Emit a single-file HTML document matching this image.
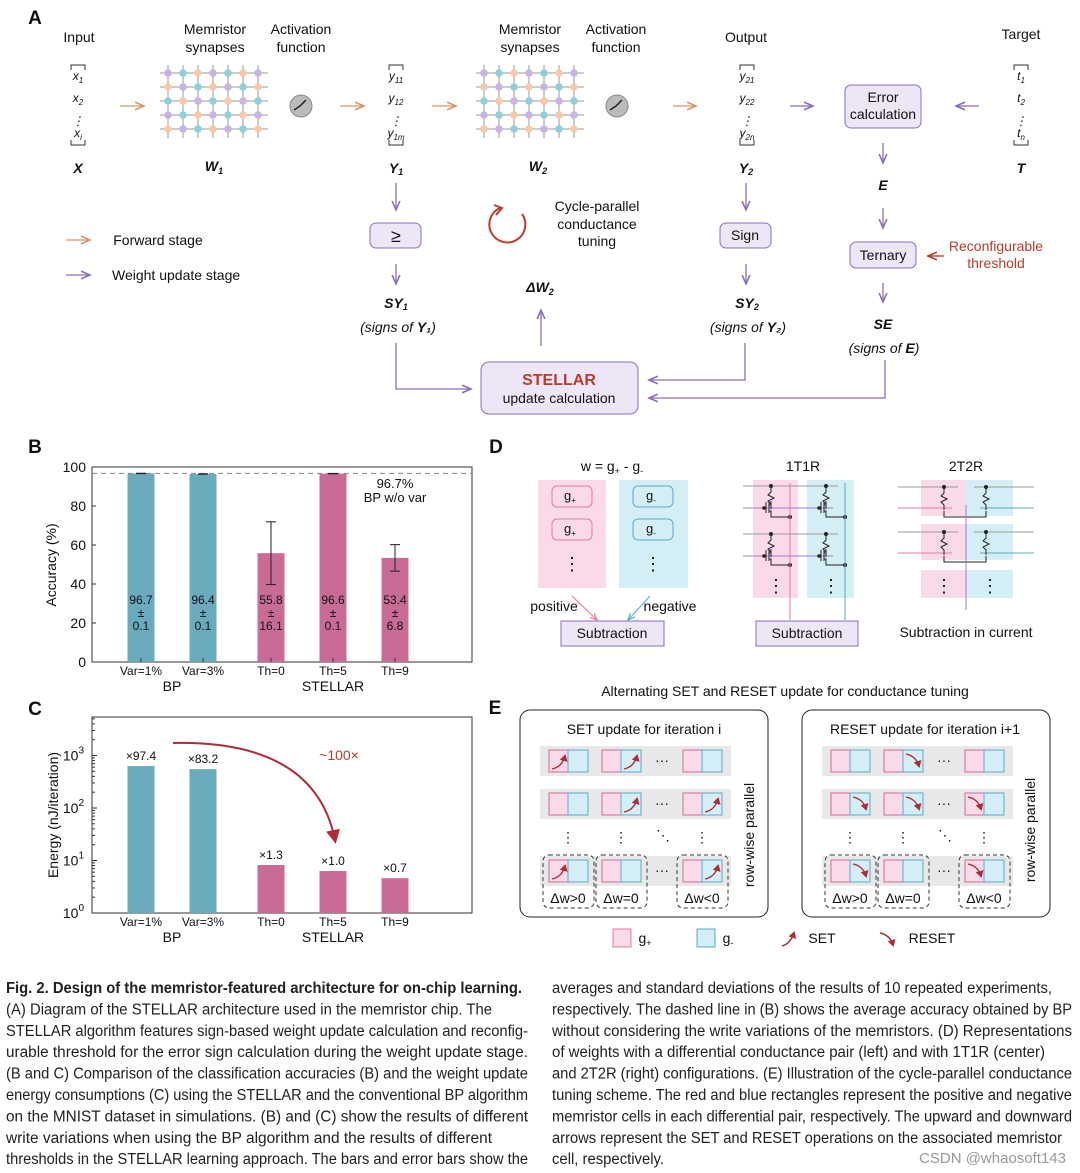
<!DOCTYPE html>
<html><head><meta charset="utf-8"><style>
body{margin:0;background:#fff}
svg{display:block;font-family:"Liberation Sans",sans-serif}
</style></head><body>
<svg id="fig" width="1080" height="1173" viewBox="0 0 1080 1173" xmlns="http://www.w3.org/2000/svg">
<defs>
<marker id="ao" markerWidth="8" markerHeight="8" refX="7" refY="4" orient="auto"><path d="M0,1 L7,4 L0,7" fill="none" stroke="#d9956b" stroke-width="1.2"/></marker>
<marker id="ap" markerWidth="8" markerHeight="8" refX="7" refY="4" orient="auto"><path d="M0,1 L7,4 L0,7" fill="none" stroke="#8b6cc0" stroke-width="1.2"/></marker>
<marker id="ar" markerWidth="8" markerHeight="8" refX="7" refY="4" orient="auto"><path d="M0,1 L7,4 L0,7" fill="none" stroke="#c0392b" stroke-width="1.2"/></marker>
<marker id="arf" markerUnits="userSpaceOnUse" markerWidth="8" markerHeight="8" refX="5" refY="4" orient="auto"><path d="M0,0 L7,4 L0,8 Z" fill="#b22a3a"/></marker>
<marker id="arfb" markerUnits="userSpaceOnUse" markerWidth="16" markerHeight="16" refX="10" refY="8" orient="auto"><path d="M0,1 L14,8 L0,15 Z" fill="#b22a3a"/></marker>
<marker id="ag" markerWidth="8" markerHeight="8" refX="7" refY="4" orient="auto"><path d="M0,1 L7,4 L0,7" fill="none" stroke="#e17aa5" stroke-width="1.2"/></marker>
<marker id="ab" markerWidth="8" markerHeight="8" refX="7" refY="4" orient="auto"><path d="M0,1 L7,4 L0,7" fill="none" stroke="#5aaac8" stroke-width="1.2"/></marker>
</defs>

<!-- Panel A -->
<g font-size="14" text-anchor="middle" fill="#111">
<text x="35" y="24" font-size="19" font-weight="bold" text-anchor="middle">A</text>
<text x="79" y="42">Input</text>
<text x="215" y="34">Memristor</text><text x="215" y="52">synapses</text>
<text x="301" y="34">Activation</text><text x="301" y="52">function</text>
<text x="530" y="34">Memristor</text><text x="530" y="52">synapses</text>
<text x="616" y="34">Activation</text><text x="616" y="52">function</text>
<text x="746" y="42">Output</text>
<text x="1021" y="39">Target</text>
<g id="vecs" font-style="italic" font-size="12"></g>
<g font-weight="bold" font-style="italic" font-size="14">
<text x="78" y="173">X</text><text x="214" y="171">W<tspan font-size="9" dy="3">1</tspan></text>
<text x="396" y="173">Y<tspan font-size="9" dy="2">1</tspan></text>
<text x="538" y="171">W<tspan font-size="9" dy="3">2</tspan></text>
<text x="746" y="173">Y<tspan font-size="9" dy="2">2</tspan></text>
<text x="1021" y="173">T</text><text x="883" y="190">E</text>
<text x="396" y="308">SY<tspan font-size="9" dy="2">1</tspan></text>
<text x="747" y="308">SY<tspan font-size="9" dy="2">2</tspan></text>
<text x="883" y="329">SE</text>
<text x="540" y="292">ΔW<tspan font-size="9" dy="3">2</tspan></text>
</g>
<g id="grids"></g>
<circle cx="301" cy="106" r="11" fill="#bbb" stroke="#888"/><path d="M294,110 L300,106 L306,100" stroke="#222" fill="none" stroke-width="1.5"/>
<circle cx="617" cy="106" r="11" fill="#bbb" stroke="#888"/><path d="M610,110 L616,106 L622,100" stroke="#222" fill="none" stroke-width="1.5"/>
<g stroke="#d9956b" stroke-width="1.3" marker-end="url(#ao)">
<line x1="120" y1="106" x2="144" y2="106"/><line x1="340" y1="106" x2="364" y2="106"/><line x1="432" y1="106" x2="456" y2="106"/><line x1="673" y1="106" x2="696" y2="106"/><line x1="66" y1="240" x2="90" y2="240"/>
</g>
<g stroke="#8b6cc0" stroke-width="1.3" fill="none" marker-end="url(#ap)">
<line x1="790" y1="106" x2="813" y2="106"/><line x1="979" y1="106" x2="956" y2="106"/><line x1="66" y1="275" x2="90" y2="275"/>
<line x1="883" y1="143" x2="883" y2="163"/><line x1="883" y1="208" x2="883" y2="228"/><line x1="883" y1="283" x2="883" y2="302"/>
<line x1="396" y1="183" x2="396" y2="210"/><line x1="396" y1="264" x2="396" y2="284"/>
<line x1="746" y1="183" x2="746" y2="210"/><line x1="746" y1="264" x2="746" y2="284"/>
<line x1="541" y1="346" x2="541" y2="310"/>
<polyline points="396,343 396,389 471,389"/><polyline points="745,343 745,380 649,380"/><polyline points="885,360 885,398 649,398"/>
</g>
<line x1="944" y1="256" x2="928" y2="256" stroke="#c0392b" stroke-width="1.3" marker-end="url(#ar)"/>
<text x="158" y="245" text-anchor="middle">Forward stage</text>
<text x="112" y="280" text-anchor="start">Weight update stage</text>
<rect x="370" y="223" width="51" height="25" rx="6" fill="#ece6f7" stroke="#8b6cc0"/><text x="396" y="242" font-size="18">≥</text>
<rect x="720" y="223" width="51" height="25" rx="6" fill="#ece6f7" stroke="#8b6cc0"/><text x="745" y="240">Sign</text>
<rect x="845" y="85" width="76" height="43" rx="6" fill="#ece6f7" stroke="#8b6cc0"/><text x="883" y="102">Error</text><text x="883" y="119">calculation</text>
<rect x="850" y="242" width="66" height="26" rx="6" fill="#ece6f7" stroke="#8b6cc0"/><text x="883" y="260">Ternary</text>
<text x="996" y="251" fill="#c0392b">Reconfigurable</text><text x="996" y="268" fill="#c0392b">threshold</text>
<path d="M500,208 A18,18 0 1 0 522,214" fill="none" stroke="#c0392b" stroke-width="2"/><path d="M494,205 L502,208 L496,215" fill="none" stroke="#c0392b" stroke-width="2"/>
<text x="597" y="211">Cycle-parallel</text><text x="597" y="229">conductance</text><text x="597" y="246">tuning</text>
<text x="398" y="332" font-style="italic">(signs of <tspan font-weight="bold">Y₁</tspan>)</text>
<text x="748" y="332" font-style="italic">(signs of <tspan font-weight="bold">Y₂</tspan>)</text>
<text x="884" y="353" font-style="italic">(signs of <tspan font-weight="bold">E</tspan>)</text>
<rect x="481" y="362" width="157" height="52" rx="8" fill="#ece6f7" stroke="#8b6cc0"/>
<text x="559" y="385" font-size="16" font-weight="bold" fill="#c0392b">STELLAR</text><text x="559" y="403">update calculation</text>
</g>

<!-- Panel B -->
<g id="chartB" font-size="13" fill="#111">
<text x="35" y="453" font-size="19" font-weight="bold" text-anchor="middle">B</text>
</g>
<!-- Panel C -->
<g id="chartC" font-size="13" fill="#111">
<text x="35" y="715" font-size="19" font-weight="bold" text-anchor="middle">C</text>
</g>

<!-- Panel D -->
<g font-size="14" text-anchor="middle" fill="#111">
<text x="496" y="453" font-size="19" font-weight="bold">D</text>
<text x="612" y="471">w = g<tspan font-size="9" dy="3">+</tspan><tspan dy="-3"> - g</tspan><tspan font-size="9" dy="3">-</tspan></text>
<rect x="538" y="480" width="68" height="108" fill="#fad9e8"/><rect x="619" y="480" width="69" height="108" fill="#d3eef4"/>
<rect x="552" y="486" width="40" height="21" rx="5" fill="#fad9e8" stroke="#e17aa5"/><text x="570" y="500" font-size="13">g<tspan font-size="8" dy="3">+</tspan></text>
<rect x="552" y="519" width="40" height="21" rx="5" fill="#fad9e8" stroke="#e17aa5"/><text x="570" y="533" font-size="13">g<tspan font-size="8" dy="3">+</tspan></text>
<rect x="633" y="486" width="40" height="21" rx="5" fill="#d3eef4" stroke="#5aaac8"/><text x="651" y="500" font-size="13">g<tspan font-size="8" dy="3">-</tspan></text>
<rect x="633" y="519" width="40" height="21" rx="5" fill="#d3eef4" stroke="#5aaac8"/><text x="651" y="533" font-size="13">g<tspan font-size="8" dy="3">-</tspan></text>
<text x="572" y="570" font-size="18">⋮</text><text x="653" y="570" font-size="18">⋮</text>
<text x="554" y="611">positive</text><text x="670" y="611">negative</text>
<line x1="572" y1="596" x2="597" y2="620" stroke="#e17aa5" marker-end="url(#ag)"/><line x1="650" y1="596" x2="628" y2="620" stroke="#5aaac8" marker-end="url(#ab)"/>
<rect x="561" y="621" width="103" height="25" fill="#ece6f7" stroke="#8b6cc0"/><text x="612" y="638">Subtraction</text>
<text x="803" y="471">1T1R</text>
<rect x="753" y="480" width="45" height="118" fill="#fad9e8"/><rect x="807" y="480" width="47" height="118" fill="#d3eef4"/>
<g id="c1t1r"></g>
<line x1="790" y1="483" x2="790" y2="620" stroke="#e17aa5"/><line x1="845" y1="483" x2="845" y2="620" stroke="#5aaac8"/>
<text x="776" y="592" font-size="18">⋮</text><text x="831" y="592" font-size="18">⋮</text>
<rect x="756" y="621" width="102" height="25" fill="#ece6f7" stroke="#8b6cc0"/><text x="807" y="638">Subtraction</text>
<text x="966" y="471">2T2R</text>
<rect x="921" y="480" width="45" height="36" fill="#fad9e8"/><rect x="966" y="480" width="47" height="36" fill="#d3eef4"/>
<rect x="921" y="524" width="45" height="36" fill="#fad9e8"/><rect x="966" y="524" width="47" height="36" fill="#d3eef4"/>
<rect x="921" y="570" width="45" height="28" fill="#fad9e8"/><rect x="966" y="570" width="47" height="28" fill="#d3eef4"/>
<g id="c2t2r"></g>
<line x1="966" y1="505" x2="966" y2="610" stroke="#a07ad0"/>
<text x="944" y="592" font-size="18">⋮</text><text x="990" y="592" font-size="18">⋮</text>
<text x="966" y="637">Subtraction in current</text>
</g>

<!-- Panel E -->
<g id="panelE" font-size="14" text-anchor="middle" fill="#111">
<text x="495" y="714" font-size="19" font-weight="bold">E</text>
<text x="785" y="696">Alternating SET and RESET update for conductance tuning</text>
<rect x="520" y="710" width="248" height="207" rx="10" fill="none" stroke="#222"/>
<rect x="802" y="710" width="248" height="207" rx="10" fill="none" stroke="#222"/>
<text x="644" y="734">SET update for iteration i</text>
<text x="925" y="734">RESET update for iteration i+1</text>
<text transform="translate(754,835) rotate(-90)">row-wise parallel</text>
<text transform="translate(1035,830) rotate(-90)">row-wise parallel</text>
<rect x="613" y="929" width="18" height="18" fill="#fad9e8" stroke="#e17aa5"/><text x="645" y="943">g<tspan font-size="9" dy="3">+</tspan></text>
<rect x="697" y="929" width="18" height="18" fill="#d3eef4" stroke="#5aaac8"/><text x="728" y="943">g<tspan font-size="9" dy="3">-</tspan></text>
<path d="M782,946 Q790,944 794,933" fill="none" stroke="#b22a3a" stroke-width="1.5" marker-end="url(#arf)"/><text x="822" y="943">SET</text>
<path d="M880,933 Q890,935 893,945" fill="none" stroke="#b22a3a" stroke-width="1.5" marker-end="url(#arf)"/><text x="932" y="943">RESET</text>
</g>

<!-- Caption -->
<g font-size="15.5" fill="#222" id="caption"></g>
<text x="1066" y="1163" font-size="15" fill="#999" text-anchor="end">CSDN @whaosoft143</text>
</svg>
<script>
const NS="http://www.w3.org/2000/svg";
function el(p,t,a,txt){const e=document.createElementNS(NS,t);for(const k in a)e.setAttribute(k,a[k]);if(txt!==undefined)e.textContent=txt;p.appendChild(e);return e;}

// ---- chart data ----
const catLabels=["Var=1%","Var=3%","Th=0","Th=5","Th=9"];
const groups=["BP","BP","STELLAR","STELLAR","STELLAR"];
const accMean=[96.7,96.4,55.8,96.6,53.4];
const accStd=[0.1,0.1,16.1,0.1,6.8];
const accTicks=[0,20,40,60,80,100];
const refLine=96.7;
const energyVals=[630,550,8.2,6.3,4.6];
const energyRatio=["×97.4","×83.2","×1.3","×1.0","×0.7"];
const energyTicks=[0,1,2,3];

const TEAL="#6aaabd",PINK="#c96b97";
const xC=[141,203,271,333,395], bw=27;

// Panel B
(function(){
 const g=document.getElementById('chartB');
 const L=92,R=472,T=467,B=662;
 const y=v=>B-(v/100)*(B-T);
 el(g,'rect',{x:L,y:T,width:R-L,height:B-T,fill:'none',stroke:'#333'});
 el(g,'line',{x1:L,x2:R,y1:y(refLine),y2:y(refLine),stroke:'#888','stroke-dasharray':'5,4'});
 accTicks.forEach(t=>{el(g,'line',{x1:L,x2:L+4,y1:y(t),y2:y(t),stroke:'#333'});el(g,'text',{x:L-6,y:y(t)+5,'text-anchor':'end','font-size':14},t);});
 el(g,'text',{transform:'translate(56,565) rotate(-90)','text-anchor':'middle','font-size':14},'Accuracy (%)');
 accMean.forEach((v,i)=>{
  const b=el(g,'rect',{x:xC[i]-bw/2,y:y(v),width:bw,height:B-y(v),fill:i<2?TEAL:PINK});
  
  
  const s=accStd[i];
  el(g,'line',{x1:xC[i],x2:xC[i],y1:y(v+s),y2:y(v-s),stroke:'#222'});
  el(g,'line',{x1:xC[i]-5,x2:xC[i]+5,y1:y(v+s),y2:y(v+s),stroke:'#222'});
  el(g,'line',{x1:xC[i]-5,x2:xC[i]+5,y1:y(v-s),y2:y(v-s),stroke:'#222'});
  el(g,'text',{x:xC[i],y:604,'text-anchor':'middle','font-size':12},v.toFixed(1));
  el(g,'text',{x:xC[i],y:617,'text-anchor':'middle','font-size':12},'±');
  el(g,'text',{x:xC[i],y:630,'text-anchor':'middle','font-size':12},s.toFixed(1));
  el(g,'line',{x1:xC[i],x2:xC[i],y1:B,y2:B-4,stroke:'#333'});
  el(g,'text',{x:xC[i],y:675,'text-anchor':'middle','font-size':12},catLabels[i]);
 });
 el(g,'text',{x:172,y:691,'text-anchor':'middle','font-size':14},'BP');
 el(g,'text',{x:333,y:691,'text-anchor':'middle','font-size':14},'STELLAR');
 el(g,'text',{x:395,y:488,'text-anchor':'middle','font-size':13},refLine+'%');
 el(g,'text',{x:395,y:502,'text-anchor':'middle','font-size':13},'BP w/o var');
})();

// Panel C
(function(){
 const g=document.getElementById('chartC');
 const L=92,R=472,T=717,B=913,dec=52.5;
 const y=v=>B-Math.log10(v)*dec;
 el(g,'rect',{x:L,y:T,width:R-L,height:B-T,fill:'none',stroke:'#333'});
 energyTicks.forEach(t=>{const yy=B-t*dec;el(g,'line',{x1:L,x2:L+5,y1:yy,y2:yy,stroke:'#333'});
  for(let m=2;m<10&&t<3.7;m++){const ym=B-(t+Math.log10(m))*dec;if(ym>T)el(g,'line',{x1:L,x2:L+3,y1:ym,y2:ym,stroke:'#333'});}
  const tx=el(g,'text',{x:L-8,y:yy+5,'text-anchor':'end','font-size':14},'10');el(tx,'tspan',{dy:-7,'font-size':10},t);});
 el(g,'text',{transform:'translate(58,815) rotate(-90)','text-anchor':'middle','font-size':14},'Energy (nJ/iteration)');
 energyVals.forEach((v,i)=>{
  const b=el(g,'rect',{x:xC[i]-bw/2,y:y(v),width:bw,height:B-y(v),fill:i<2?TEAL:PINK});
  
  
  el(g,'text',{x:xC[i],y:y(v)-6,'text-anchor':'middle','font-size':12},energyRatio[i]);
  el(g,'text',{x:xC[i],y:926,'text-anchor':'middle','font-size':12},catLabels[i]);
 });
 el(g,'text',{x:172,y:942,'text-anchor':'middle','font-size':14},'BP');
 el(g,'text',{x:333,y:942,'text-anchor':'middle','font-size':14},'STELLAR');
 el(g,'path',{d:'M173,743 Q315,740 335,840',fill:'none',stroke:'#b22a3a','stroke-width':2,'marker-end':'url(#arfb)'});
 el(g,'text',{x:339,y:760,'text-anchor':'middle','font-size':14,fill:'#c0392b'},'~100×');
})();

// Panel A vectors and grids, panel D circuits
(function(){
 const g=document.getElementById('vecs');
 function vec(x,labs){el(g,'path',{d:`M${x-7},70 L${x-7},65 L${x+7},65 L${x+7},70 M${x-7},140 L${x-7},145 L${x+7},145 L${x+7},140`,fill:'none',stroke:'#333'});
  const ys=[80,102,137];labs.forEach((l,i)=>{const t=el(g,'text',{x:x,y:ys[i]},l[0]);el(t,'tspan',{'font-size':8,dy:3},l[1]);});
  el(g,'text',{x:x,y:125,'font-size':12},'⋮');}
 vec(78,[['x','1'],['x','2'],['x','i']]);vec(396,[['y','11'],['y','12'],['y','1m']]);vec(747,[['y','21'],['y','22'],['y','2n']]);vec(1021,[['t','1'],['t','2'],['t','n']]);
 const gr=document.getElementById('grids');const cols=['#c9b3e3','#f8c9a9','#8fd0d6'];
 [160,476].forEach(x0=>{for(let r=0;r<5;r++)el(gr,'line',{x1:x0,x2:x0+108,y1:73+r*14,y2:73+r*14,stroke:'#999'});
  for(let c=0;c<7;c++)el(gr,'line',{x1:x0+8+c*15,x2:x0+8+c*15,y1:65,y2:138,stroke:'#999'});
  for(let r=0;r<5;r++)for(let c=0;c<7;c++)el(gr,'circle',{cx:x0+8+c*15,cy:73+r*14,r:3.8,fill:cols[(r+c*2)%3]});});
 const d=document.getElementById('c1t1r');
 [0,48].forEach(dy=>{
  el(d,'line',{x1:743,x2:838,y1:486+dy,y2:486+dy,stroke:'#999'});
  el(d,'line',{x1:743,x2:833,y1:508+dy,y2:508+dy,stroke:'#a07ad0'});
  [0,55].forEach(dx=>{
  el(d,'path',{d:`M${771+dx},${486+dy} l0,6 l-3,3 l6,3 l-6,3 l3,3 l0,5 M${766+dx},${502+dy} l0,11 M${769+dx},${502+dy} l0,11 M${769+dx},${505+dy} l2,0 l0,-4 M${769+dx},${511+dy} l2,0 l0,6 l19,0`,fill:'none',stroke:'#222'});
  el(d,'circle',{cx:771+dx,cy:486+dy,r:2,fill:'#222'});el(d,'circle',{cx:790+dx,cy:517+dy,r:2,fill:'#222'});el(d,'circle',{cx:764+dx,cy:508+dy,r:1.8,fill:'#222'});});});
 const e2=document.getElementById('c2t2r');
 [0,45].forEach(dy=>{
  el(e2,'line',{x1:898,x2:958,y1:487+dy,y2:487+dy,stroke:'#999'});el(e2,'line',{x1:974,x2:1034,y1:487+dy,y2:487+dy,stroke:'#999'});
  el(e2,'line',{x1:898,x2:952,y1:508+dy,y2:508+dy,stroke:'#e17aa5'});el(e2,'line',{x1:980,x2:1034,y1:508+dy,y2:508+dy,stroke:'#5aaac8'});
  [944,986].forEach(x=>{el(e2,'path',{d:`M${x},${487+dy} l0,6 l-3,3 l6,3 l-6,3 l3,3 l0,5`,fill:'none',stroke:'#222'});el(e2,'circle',{cx:x,cy:487+dy,r:2,fill:'#222'});});
  el(e2,'path',{d:`M944,${511+dy} l0,6 l42,0 l0,-6`,fill:'none',stroke:'#222'});});
})();

// Panel E cells
(function(){
 const g=document.getElementById('panelE');
 const colX=[549,602,683],rowY=[750,793,860];
 const setP=[[[1,0],[0,1],[0,0]],[[0,0],[0,1],[0,1]],[[1,0],[0,0],[0,1]]];
 const resP=[[[0,0],[0,1],[0,0]],[[0,1],[0,1],[1,0]],[[0,1],[0,0],[1,0]]];
 [[0,setP,true],[282,resP,false]].forEach(([ox,P,up])=>{
  rowY.forEach((ry,r)=>{el(g,'rect',{x:540+ox,y:ry-4,width:191,height:30,fill:'#e8e8e8'});
   colX.forEach((cx,c)=>{const x=cx+ox;
    el(g,'rect',{x:x,y:ry,width:19,height:22,fill:'#fad9e8',stroke:'#d46a98'});
    el(g,'rect',{x:x+19,y:ry,width:20,height:22,fill:'#d3eef4',stroke:'#5aaac8'});
    [0,1].forEach(k=>{if(P[r][c][k]){const ax=x+k*19+3;
     el(g,'path',{d:up?`M${ax},${ry+19} Q${ax+10},${ry+17} ${ax+13},${ry+6}`:`M${ax},${ry+4} Q${ax+10},${ry+6} ${ax+13},${ry+16}`,fill:'none',stroke:'#b22a3a','stroke-width':1.4,'marker-end':'url(#arf)'});}});});
   el(g,'text',{x:662+ox,y:ry+15},'···');});
  [0,1,2].forEach(c=>el(g,'text',{x:colX[c]+19+ox,y:842},'⋮'));
  el(g,'text',{x:663+ox,y:840},'⋱');
  ['Δw>0','Δw=0','Δw<0'].forEach((t,c)=>{const x=colX[c]+ox;
   el(g,'rect',{x:x-6,y:855,width:51,height:53,rx:6,fill:'none',stroke:'#333','stroke-dasharray':'4,3'});
   el(g,'text',{x:x+19,y:903},t);});
 });
})();

// Caption
(function(){
 const g=document.getElementById('caption');
 const left=[
 ["Fig. 2. Design of the memristor-featured architecture for on-chip learning.",1,516],
 ["(A) Diagram of the STELLAR architecture used in the memristor chip. The",0,486],
 ["STELLAR algorithm features sign-based weight update calculation and reconfig-",0,522],
 ["urable threshold for the error sign calculation during the weight update stage.",0,522],
 ["(B and C) Comparison of the classification accuracies (B) and the weight update",0,522],
 ["energy consumptions (C) using the STELLAR and the conventional BP algorithm",0,522],
 ["on the MNIST dataset in simulations. (B) and (C) show the results of different",0,522],
 ["write variations when using the BP algorithm and the results of different",0,486],
 ["thresholds in the STELLAR learning approach. The bars and error bars show the",0,522]];
 const right=[
 "averages and standard deviations of the results of 10 repeated experiments,",
 "respectively. The dashed line in (B) shows the average accuracy obtained by BP",
 "without considering the write variations of the memristors. (D) Representations",
 "of weights with a differential conductance pair (left) and with 1T1R (center)",
 "and 2T2R (right) configurations. (E) Illustration of the cycle-parallel conductance",
 "tuning scheme. The red and blue rectangles represent the positive and negative",
 "memristor cells in each differential pair, respectively. The upward and downward",
 "arrows represent the SET and RESET operations on the associated memristor",
 "cell, respectively."];
 const rw=[500,520,520,493,520,520,520,510,112];
 left.forEach((l,i)=>{const a={x:6,y:993+i*21.4,lengthAdjust:'spacingAndGlyphs',textLength:l[2]};if(l[1]){a['font-weight']='bold';}el(g,'text',a,l[0]);});
 right.forEach((l,i)=>el(g,'text',{x:552,y:993+i*21.4,lengthAdjust:'spacingAndGlyphs',textLength:rw[i]},l));
})();
</script>
</body></html>
